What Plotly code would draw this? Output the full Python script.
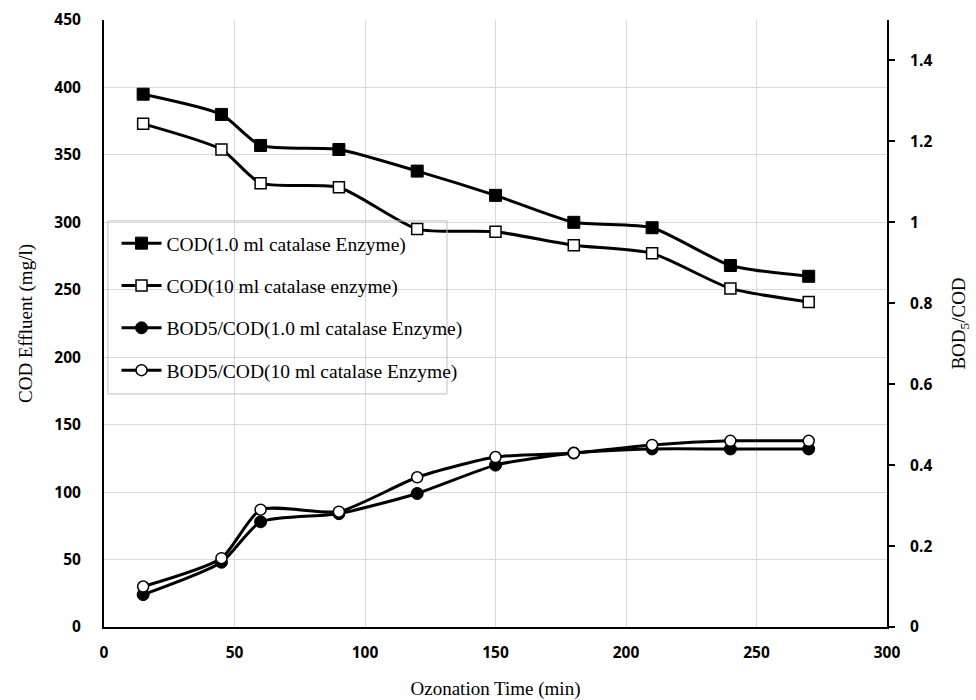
import plotly.graph_objects as go

# Ozonation time (min)
time_min = [15, 45, 60, 90, 120, 150, 180, 210, 240, 270]

# COD effluent (mg/l)
cod_1ml = [395, 380, 357, 354, 338, 320, 300, 296, 268, 260]
cod_10ml = [373, 354, 329, 326, 295, 293, 283, 277, 251, 241]

# BOD5/COD ratio
bod_cod_1ml = [0.08, 0.16, 0.26, 0.28, 0.33, 0.40, 0.43, 0.44, 0.44, 0.44]
bod_cod_10ml = [0.10, 0.17, 0.29, 0.285, 0.37, 0.42, 0.43, 0.45, 0.46, 0.46]

names = [
    "COD(1.0 ml catalase Enzyme)",
    "COD(10 ml catalase enzyme)",
    "BOD5/COD(1.0 ml catalase Enzyme)",
    "BOD5/COD(10 ml catalase Enzyme)",
]

serif = "Liberation Serif"
tick_font = dict(family="Open Sans", size=15.5, color="black", weight=700)
title_font = dict(family=serif, size=19, color="black")

line_style = dict(color="black", width=3, shape="spline", smoothing=0.6)

fig = go.Figure()
fig.add_trace(go.Scatter(
    x=time_min, y=cod_1ml, name=names[0], mode="lines+markers", legendgroup="a",
    line=line_style,
    marker=dict(symbol="square", size=12, color="black", line=dict(color="black", width=1)),
))
fig.add_trace(go.Scatter(
    x=time_min, y=cod_10ml, name=names[1], mode="lines+markers", legendgroup="b",
    line=line_style,
    marker=dict(symbol="square", size=11, color="white", line=dict(color="black", width=1.5)),
))
fig.add_trace(go.Scatter(
    x=time_min, y=bod_cod_1ml, name=names[2], mode="lines+markers", legendgroup="c",
    yaxis="y2", line=line_style,
    marker=dict(symbol="circle", size=12, color="black", line=dict(color="black", width=1)),
))
fig.add_trace(go.Scatter(
    x=time_min, y=bod_cod_10ml, name=names[3], mode="lines+markers", legendgroup="d",
    yaxis="y2", line=line_style,
    marker=dict(symbol="circle", size=11, color="white", line=dict(color="black", width=1.5)),
))

fig.update_layout(
    width=976, height=700,
    margin=dict(l=104, r=89, t=20, b=73),
    paper_bgcolor="white", plot_bgcolor="white",
    xaxis=dict(
        range=[0, 300], tickvals=list(range(0, 301, 50)),
        showgrid=True, gridcolor="#d9d9d9", gridwidth=1,
        showline=True, linecolor="black", linewidth=2,
        ticks="", tickfont=tick_font, ticklabelstandoff=10,
        zeroline=False, automargin=False,
        title=dict(text="Ozonation Time (min)", font=title_font, standoff=27),
    ),
    yaxis=dict(
        range=[0, 450], tickvals=list(range(0, 451, 50)),
        showgrid=True, gridcolor="#d9d9d9", gridwidth=1,
        showline=True, linecolor="black", linewidth=2,
        ticks="", tickfont=tick_font, ticklabelstandoff=18,
        zeroline=False, automargin=False,
        title=dict(text="COD Effluent (mg/l)", font=title_font, standoff=17),
    ),
    yaxis2=dict(
        overlaying="y", side="right",
        range=[0, 1.5], tickvals=[0, 0.2, 0.4, 0.6, 0.8, 1, 1.2, 1.4],
        ticktext=["0", "0.2", "0.4", "0.6", "0.8", "1", "1.2", "1.4"],
        showgrid=False, zeroline=False, automargin=False,
        showline=True, linecolor="black", linewidth=2,
        ticks="outside", ticklen=6, tickwidth=1.5, tickcolor="black",
        tickfont=tick_font, ticklabelstandoff=12,
        title=dict(text="BOD<sub>5</sub>/COD", font=title_font, standoff=20),
    ),
    legend=dict(
        x=0.016, y=0.664, xanchor="left", yanchor="top",
        bgcolor="rgba(0,0,0,0)", borderwidth=0,
        font=dict(family=serif, size=19.5, color="black"),
        tracegroupgap=14, itemwidth=40,
    ),
    shapes=[dict(
        type="rect", xref="paper", yref="paper",
        x0=0.005, x1=0.438, y0=0.384, y1=0.669,
        line=dict(color="#bfbfbf", width=1), fillcolor="rgba(0,0,0,0)", layer="above",
    )],
)

fig.write_html("out.html")
